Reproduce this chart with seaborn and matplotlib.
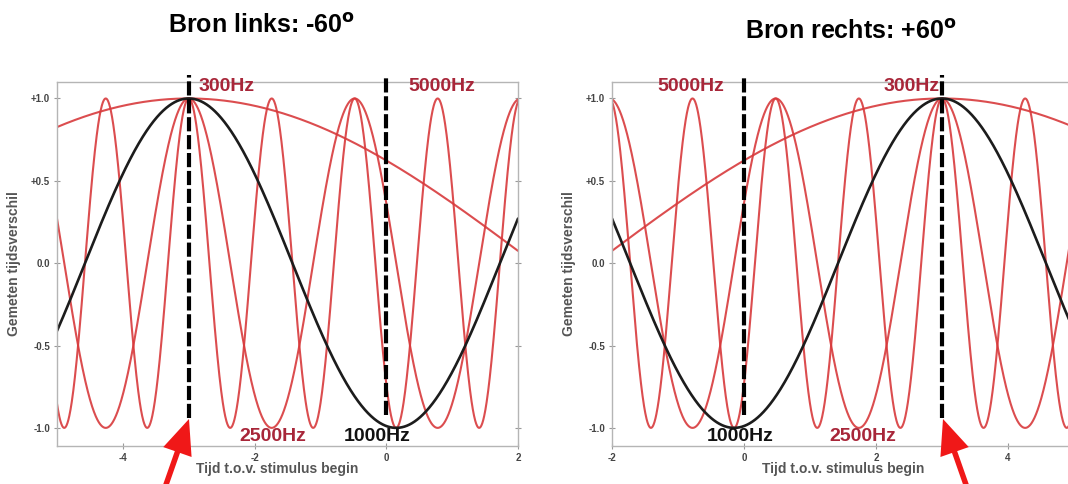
import numpy as np
import pandas as pd
import matplotlib
matplotlib.use("Agg")
import matplotlib.pyplot as plt
import seaborn as sns

# values
freq_labels = ["300Hz", "1000Hz", "2500Hz", "5000Hz"]
periods = [21.0, 6.3, 2.52, 1.26]          # period of each curve (time units)
peak_left = -3.0                            # common peak, source left
peak_right = 3.0                            # common peak, source right
xlim_left = (-5, 2)
xlim_right = (-2, 5)
xticks_left = [-4, -2, 0, 2]
xticks_right = [-2, 0, 2, 4]
yticks = [-1.0, -0.5, 0.0, 0.5, 1.0]
ytick_labels = ["-1.0", "-0.5", "0.0", "+0.5", "+1.0"]
titles = ["Bron links: -60$^{\\mathbf{o}}$", "Bron rechts: +60$^{\\mathbf{o}}$"]

RED = "#d83a3c"
TXT_RED = "#a82639"
palette = {"300Hz": RED, "1000Hz": "#1c1c1c", "2500Hz": RED, "5000Hz": RED}

sns.set_theme(style="white")
plt.rcParams["font.family"] = ["Liberation Sans", "DejaVu Sans"]


def make_df(xlim, peak):
    rows = []
    t = np.linspace(xlim[0], xlim[1], 1500)
    for lab, per in zip(freq_labels, periods):
        rows.append(pd.DataFrame({"t": t, "y": np.cos(2 * np.pi * (t - peak) / per), "freq": lab}))
    return pd.concat(rows, ignore_index=True)


fig = plt.figure(figsize=(10.68, 4.84), dpi=100)
ax1 = fig.add_axes([57 / 1068, 38 / 484, 461 / 1068, 364 / 484])
ax2 = fig.add_axes([612 / 1068, 38 / 484, 462 / 1068, 364 / 484])


def style_axes(ax, xlim, xticks, xlabel_x):
    ax.set_xlim(*xlim)
    ax.set_ylim(-1.11, 1.1)
    ax.set_xticks(xticks)
    ax.set_xticklabels([str(v) for v in xticks])
    ax.set_yticks(yticks)
    ax.set_yticklabels(ytick_labels)
    ax.tick_params(direction="inout", length=4, width=0.8, color="#999999",
                   labelsize=7, labelcolor="#444444", pad=3,
                   left=True, right=True, bottom=True, top=False)
    for lab in ax.get_xticklabels() + ax.get_yticklabels():
        lab.set_fontweight("bold")
    for sp in ax.spines.values():
        sp.set_color("#b5b5b5")
        sp.set_linewidth(1.0)
    ax.set_xlabel("Tijd t.o.v. stimulus begin", fontsize=10, fontweight="bold", color="#555555")
    ax.set_ylabel("Gemeten tijdsverschil", fontsize=10, fontweight="bold", color="#555555")
    ax.xaxis.set_label_coords(xlabel_x, -0.044)
    ax.yaxis.set_label_coords(-0.078, 0.5)


for ax, xlim, peak, xt, xl in [(ax1, xlim_left, peak_left, xticks_left, 0.478),
                               (ax2, xlim_right, peak_right, xticks_right, 0.5)]:
    df = make_df(xlim, peak)
    sns.lineplot(data=df[df.freq != "1000Hz"], x="t", y="y", hue="freq", palette=palette,
                 estimator=None, legend=False, linewidth=1.5, alpha=0.9, ax=ax)
    sns.lineplot(data=df[df.freq == "1000Hz"], x="t", y="y", color=palette["1000Hz"],
                 estimator=None, legend=False, linewidth=1.9, ax=ax)
    style_axes(ax, xlim, xt, xl)
    # dashed markers: common peak and 0
    ax.plot([peak, peak], [-0.94, 1.14], color="black", lw=3, dashes=(3.4, 0.9), clip_on=False, zorder=5)
    ax.plot([0, 0], [-0.92, 1.14], color="black", lw=3, dashes=(3.4, 0.9), clip_on=False, zorder=5)

lab_kw = dict(fontsize=14, fontweight="bold", va="center")
ax1.text(-2.85, 1.07, "300Hz", color=TXT_RED, ha="left", **lab_kw)
ax1.text(0.33, 1.07, "5000Hz", color=TXT_RED, ha="left", **lab_kw)
ax1.text(-2.23, -1.055, "2500Hz", color=TXT_RED, ha="left", **lab_kw)
ax1.text(-0.64, -1.055, "1000Hz", color="#111111", ha="left", **lab_kw)

ax2.text(-1.32, 1.07, "5000Hz", color=TXT_RED, ha="left", **lab_kw)
ax2.text(2.97, 1.07, "300Hz", color=TXT_RED, ha="right", **lab_kw)
ax2.text(-0.56, -1.055, "1000Hz", color="#111111", ha="left", **lab_kw)
ax2.text(1.30, -1.055, "2500Hz", color=TXT_RED, ha="left", **lab_kw)

fig.text(262 / 1068, 1 - 26 / 484, titles[0], fontsize=18, fontweight="bold",
         color="black", ha="center", va="center")
fig.text(851 / 1068, 1 - 32 / 484, titles[1], fontsize=18, fontweight="bold",
         color="black", ha="center", va="center")

# red arrows pointing at the common peak
arrow_kw = dict(arrowstyle="simple,head_length=1.4,head_width=1.2,tail_width=0.22",
                mutation_scale=18, color="#f01818", lw=0, shrinkA=0, shrinkB=0)
for tip, tail in [((189, 65), (162, -12)), ((943, 65), (970, -12))]:
    fig.add_artist(matplotlib.patches.FancyArrowPatch(
        posA=tail, posB=tip, transform=None, **arrow_kw))

fig.savefig("out.png", dpi=100)
